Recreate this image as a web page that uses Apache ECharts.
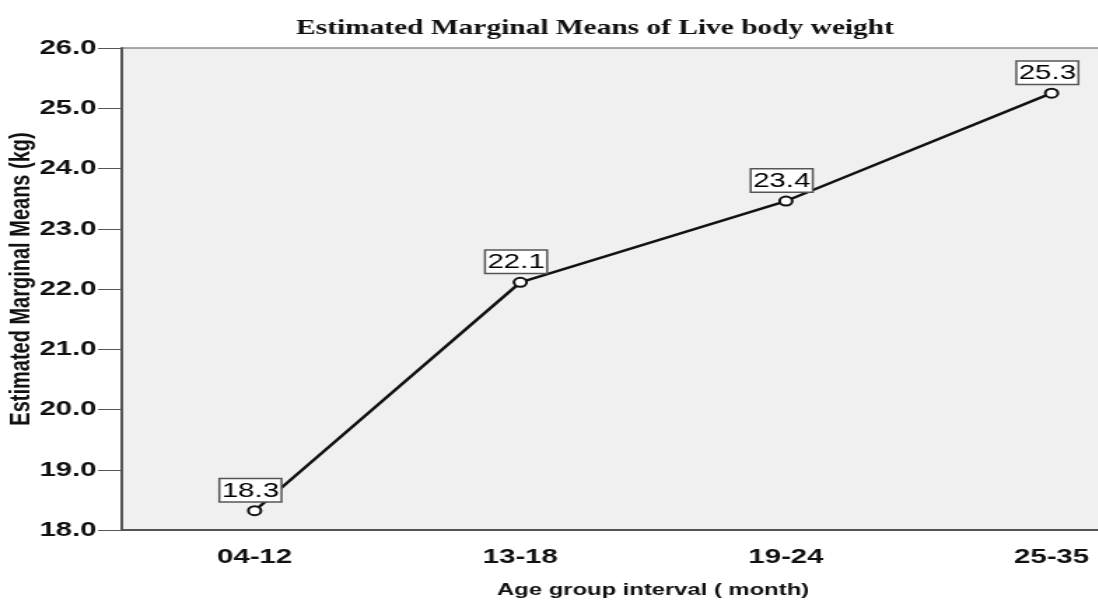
<!DOCTYPE html>
<html>
<head>
<meta charset="utf-8">
<script src="https://cdn.jsdelivr.net/npm/echarts@6/dist/echarts.min.js"></script>
<style>
  html, body { margin: 0; padding: 0; background: #fff; overflow: hidden; }
  /* the original figure is stretched sideways, so draw narrow and widen it */
  #chart { width: 784px; height: 600px; transform: scaleX(1.4); transform-origin: 0 0; }
</style>
</head>
<body>
<div id="chart"></div>
<script>
// age groups and estimated marginal means (kg)
const ageGroups = ['04-12', '13-18', '19-24', '25-35'];
const meanWeight = [18.32, 22.11, 23.46, 25.25];
const meanLabels = ['18.3', '22.1', '23.4', '25.3'];

const chartBox = document.getElementById('chart');
var weightChart = echarts.init(chartBox);
var weightOption;

weightOption = {
    animation: false,
    title: {
        text: 'Estimated Marginal Means of Live body weight',
        left: 420,
        textAlign: 'center',
        top: 13,
        textStyle: {
            fontFamily: 'Liberation Serif',
            fontWeight: 'bold',
            fontSize: 21,
            color: '#111'
        }
    },
    grid: {
        left: 87,
        width: 759,
        top: 48,
        bottom: 70,
        outerBoundsMode: 'none',
        show: true,
        backgroundColor: '#f0f0f0',
        borderColor: '#555',
        borderWidth: 1
    },
    xAxis: {
        type: 'category',
        data: ageGroups,
        boundaryGap: true,
        name: 'Age group interval ( month)',
        nameLocation: 'middle',
        nameGap: 52,
        nameTextStyle: {
            fontFamily: 'Liberation Sans',
            fontWeight: 'bold',
            fontSize: 17,
            color: '#111'
        },
        axisLine: { lineStyle: { color: '#555', width: 2 } },
        axisTick: { alignWithLabel: true, length: 12, lineStyle: { color: '#555', width: 2 } },
        axisLabel: {
            margin: 17,
            fontFamily: 'Liberation Sans',
            fontWeight: 'bold',
            fontSize: 21,
            color: '#111'
        },
        splitLine: { show: false }
    },
    yAxis: {
        type: 'value',
        min: 18,
        max: 26,
        interval: 1,
        name: 'Estimated Marginal Means (kg)',
        nameLocation: 'middle',
        nameMoveOverlap: false,
        nameGap: 62,
        nameTextStyle: {
            fontFamily: 'Liberation Sans',
            fontWeight: 'bold',
            fontSize: 20,
            color: '#111',
            padding: [0, 0, 0, 20]
        },
        axisLine: { show: true, lineStyle: { color: '#555', width: 2 } },
        axisTick: { show: true, length: 17, lineStyle: { color: '#555', width: 1 } },
        axisLabel: {
            margin: 18,
            fontFamily: 'Liberation Sans',
            fontWeight: 'bold',
            fontSize: 21,
            color: '#111',
            formatter: function (v) { return v.toFixed(1); }
        },
        splitLine: { show: false }
    },
    series: [
        {
            type: 'line',
            name: 'Live body weight',
            data: meanWeight,
            symbol: 'emptyCircle',
            symbolSize: 9,
            color: '#111',
            lineStyle: { color: '#111', width: 2.5 },
            itemStyle: { color: '#111', borderColor: '#111', borderWidth: 1.5 },
            label: {
                show: true,
                position: 'top',
                distance: 4,
                offset: [-3, 0],
                formatter: function (p) { return meanLabels[p.dataIndex]; },
                fontFamily: 'Liberation Sans',
                fontSize: 21,
                lineHeight: 21,
                color: '#000',
                backgroundColor: '#fff',
                borderColor: '#555',
                borderWidth: 1.5,
                padding: [1, 1, 0, 1]
            }
        }
    ]
};

weightOption && weightChart.setOption(weightOption);
</script>
</body>
</html>
